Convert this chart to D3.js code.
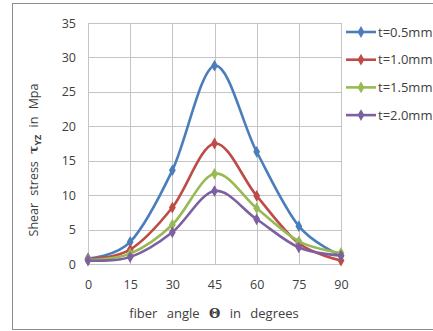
<!DOCTYPE html>
<html>
<head>
<meta charset="utf-8">
<script src="https://cdn.jsdelivr.net/npm/d3@7"></script>
<style>
  body { margin: 0; background: #fff; }
  svg text { font-family: "Open Sans", sans-serif; fill: #404040; }
</style>
</head>
<body>
<div id="chart"></div>
<script>
// Data
let angles = [0, 15, 30, 45, 60, 75, 90];
let yTicks = [0, 5, 10, 15, 20, 25, 30, 35];
let names = ['t=0.5mm', 't=1.0mm', 't=1.5mm', 't=2.0mm'];
let colors = ['#4a7ebb', '#be4b48', '#98b954', '#7d60a0'];
let t05 = [0.8, 3.2, 13.6, 28.8, 16.3, 5.5, 1.2];
let t10 = [0.7, 2.1, 8.2, 17.5, 9.9, 3.0, 0.5];
let t15 = [0.6, 1.5, 5.7, 13.1, 8.1, 3.3, 1.6];
let t20 = [0.5, 1.0, 4.6, 10.6, 6.5, 2.4, 1.2];
let series = [t05, t10, t15, t20];

let width = 433;
let height = 331;

let svg = d3.select('#chart').append('svg').attr('width', width).attr('height', height);

// outer frame
svg
  .append('rect')
  .attr('x', 12.5)
  .attr('y', 3.5)
  .attr('width', 440)
  .attr('height', 326)
  .style('fill', '#fff')
  .style('stroke', '#8c8c8c');

let x = d3.scaleLinear().domain([0, 90]).range([88, 341]);
let y = d3.scaleLinear().domain([0, 35]).range([264, 23]);

// grid
svg
  .append('g')
  .selectAll('line')
  .data(yTicks)
  .join('line')
  .attr('x1', x(0))
  .attr('x2', x(90))
  .attr('y1', (d) => Math.round(y(d)) + 0.5)
  .attr('y2', (d) => Math.round(y(d)) + 0.5)
  .style('stroke', '#c4c4c4');

svg
  .append('g')
  .selectAll('line')
  .data(angles)
  .join('line')
  .attr('x1', (d) => Math.round(x(d)) + 0.5)
  .attr('x2', (d) => Math.round(x(d)) + 0.5)
  .attr('y1', y(35))
  .attr('y2', y(0))
  .style('stroke', '#c4c4c4');

// tick labels
let yAxis = svg.append('g').attr('transform', 'translate(' + x(0) + ',0)').call(d3.axisLeft(y).tickValues(yTicks).tickSize(0).tickPadding(12));
let xAxis = svg.append('g').attr('transform', 'translate(0,' + y(0) + ')').call(d3.axisBottom(x).tickValues(angles).tickSize(0).tickPadding(16));
[yAxis, xAxis].forEach(function (a) {
  a.select('.domain').remove();
  a.selectAll('text').style('font-size', '12.5px').style('fill', '#404040').style('font-family', '"Open Sans", sans-serif');
});

// lines
let line = d3
  .line()
  .x((d, i) => x(angles[i]))
  .y((d) => y(d))
  .curve(d3.curveCardinal.tension(0));

let diamond = d3.symbol().type(d3.symbolDiamond).size(40);

series.forEach(function (s, k) {
  svg
    .append('path')
    .datum(s)
    .attr('d', line)
    .style('fill', 'none')
    .style('stroke', colors[k])
    .style('stroke-width', 2.6);

  svg
    .append('g')
    .selectAll('path')
    .data(s)
    .join('path')
    .attr('d', diamond)
    .attr('transform', (d, i) => 'translate(' + x(angles[i]) + ',' + y(d) + ')')
    .style('fill', colors[k]);
});

// legend
let legend = svg
  .append('g')
  .selectAll('g')
  .data(names)
  .join('g')
  .attr('transform', (d, i) => 'translate(346,' + (32 + i * 27.7) + ')');

legend
  .append('line')
  .attr('x1', 0)
  .attr('x2', 30)
  .style('stroke', (d, i) => colors[i])
  .style('stroke-width', 2.6);

legend
  .append('path')
  .attr('d', diamond)
  .attr('transform', 'translate(15,0)')
  .style('fill', (d, i) => colors[i]);

legend
  .append('text')
  .attr('x', 32)
  .attr('dy', '0.35em')
  .style('font-size', '13px')
  .text((d) => d);

// axis titles
svg
  .append('text')
  .attr('x', 214)
  .attr('y', 318)
  .attr('text-anchor', 'middle')
  .style('font-size', '13px')
  .style('word-spacing', '6px')
  .html('fiber angle <tspan font-weight="bold" font-family="DejaVu Serif">&#920;</tspan> in degrees');

svg
  .append('text')
  .attr('transform', 'translate(38,160) rotate(-90)')
  .attr('text-anchor', 'middle')
  .style('font-size', '12.5px')
  .style('word-spacing', '4px')
  .html('Shear stress <tspan font-weight="bold" font-family="DejaVu Serif">&#964;</tspan><tspan font-weight="bold" font-size="9px" dy="3">YZ</tspan><tspan dy="-3"> in Mpa</tspan>');
</script>
</body>
</html>
